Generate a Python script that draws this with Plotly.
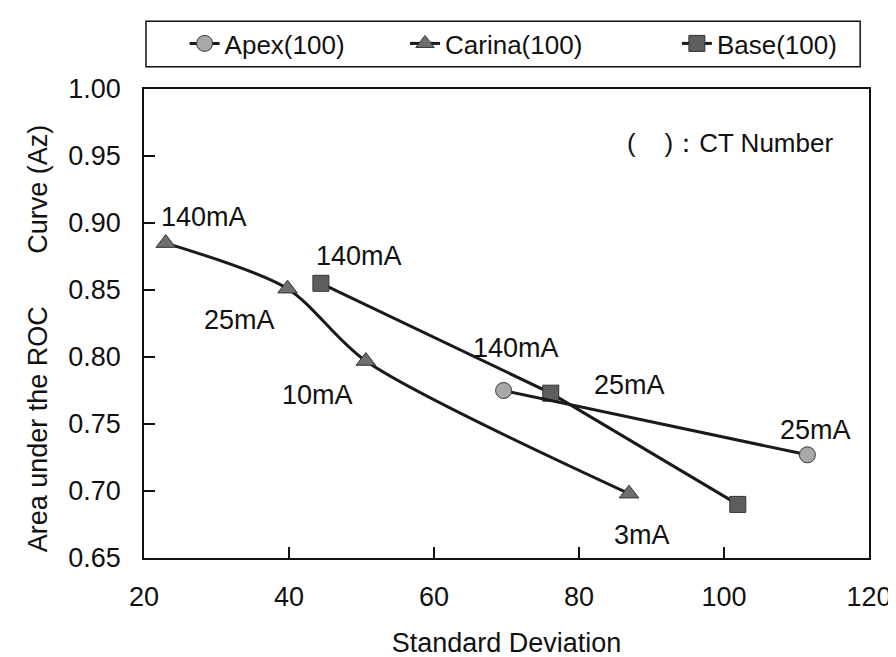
import plotly.graph_objects as go

# ---- data ----
apex_sd = [69.6, 111.5]
apex_az = [0.775, 0.727]
apex_lbl = ["140mA", "25mA"]

carina_sd = [23.0, 39.8, 50.6, 86.9]
carina_az = [0.885, 0.851, 0.797, 0.698]
carina_lbl = ["140mA", "25mA", "10mA", "3mA"]

base_sd = [44.4, 76.1, 101.9]
base_az = [0.855, 0.773, 0.690]
base_lbl = ["140mA", "25mA", ""]

x_ticks = [20, 40, 60, 80, 100, 120]
y_ticks = [0.65, 0.70, 0.75, 0.80, 0.85, 0.90, 0.95, 1.00]

FONT = "Liberation Sans, Arial, sans-serif"
LINE = "#1a1a1a"

fig = go.Figure()

fig.add_trace(go.Scatter(
    x=carina_sd, y=carina_az, name="Carina(100)", mode="lines+markers",
    line=dict(color=LINE, width=3, shape="spline", smoothing=0.8),
    marker=dict(symbol="triangle-up", size=17, color="#6e6e6e",
                line=dict(color="#333333", width=1)),
    legend="legend2"))
fig.add_trace(go.Scatter(
    x=base_sd, y=base_az, name="Base(100)", mode="lines+markers",
    line=dict(color=LINE, width=3),
    marker=dict(symbol="square", size=16, color="#5e5e5e",
                line=dict(color="#333333", width=1)),
    legend="legend3"))
fig.add_trace(go.Scatter(
    x=apex_sd, y=apex_az, name="Apex(100)", mode="lines+markers",
    line=dict(color=LINE, width=3),
    marker=dict(symbol="circle", size=16, color="#a8a8a8",
                line=dict(color="#333333", width=1)),
    legend="legend"))

# point labels (offsets in pixels relative to each point)
offsets = {
    "apex": [(12, 43), (8, 25)],
    "carina": [(38, 26), (-48, -31), (-48, -34), (13, -41)],
    "base": [(38, 27), (79, 8), (0, 0)],
}
for key, xs, ys, lbls in [("apex", apex_sd, apex_az, apex_lbl),
                          ("carina", carina_sd, carina_az, carina_lbl),
                          ("base", base_sd, base_az, base_lbl)]:
    for (xv, yv, t, (dx, dy)) in zip(xs, ys, lbls, offsets[key]):
        if not t:
            continue
        fig.add_annotation(x=xv, y=yv, xref="x", yref="y", text=t,
                           showarrow=False, xshift=dx, yshift=dy,
                           xanchor="center", yanchor="middle",
                           font=dict(family=FONT, size=27, color="#111"))

# CT number note
fig.add_annotation(x=0.9525, y=0.8845, xref="paper", yref="paper",
                   text="(\u00a0\u00a0\u00a0\u00a0)\uff1aCT Number", showarrow=False,
                   xanchor="right", yanchor="middle",
                   font=dict(family=FONT, size=26, color="#111"))

# y-axis title as rotated annotation
nb = "\u00a0" * 7
fig.add_annotation(x=-0.1465, y=0.468, xref="paper", yref="paper",
                   text="Area under the ROC" + nb + "Curve (Az)", textangle=-90,
                   showarrow=False, xanchor="center", yanchor="middle",
                   font=dict(family=FONT, size=27, color="#111"))

# legend frame
fig.add_shape(type="rect", xref="paper", yref="paper",
              x0=0.0027, x1=0.9878, y0=1.0474, y1=1.1443,
              line=dict(color="#111", width=1.5), fillcolor="rgba(0,0,0,0)")

leg_common = dict(orientation="h", yanchor="middle", xanchor="left",
                  bgcolor="rgba(0,0,0,0)", borderwidth=0,
                  font=dict(family=FONT, size=26, color="#111"))

fig.update_layout(
    width=896, height=657,
    margin=dict(l=136, r=23, t=77, b=95),
    paper_bgcolor="white", plot_bgcolor="white",
    font=dict(family=FONT, size=27, color="#111"),
    showlegend=True,
    legend=dict(x=0.056, y=1.097, **leg_common),
    legend2=dict(x=0.36, y=1.097, **leg_common),
    legend3=dict(x=0.735, y=1.097, **leg_common),
    xaxis=dict(range=[20, 120], tickvals=x_ticks, ticktext=[str(v) for v in x_ticks],
               ticks="inside", ticklen=11, tickwidth=1.5, tickcolor="#111",
               showline=True, linecolor="#111", linewidth=1.5, mirror=True,
               showgrid=False, zeroline=False,
               tickfont=dict(family=FONT, size=27), ticklabelstandoff=14,
               title=dict(text="Standard Deviation", font=dict(family=FONT, size=27),
                          standoff=22)),
    yaxis=dict(range=[0.65, 1.00], tickvals=y_ticks,
               ticktext=["%.2f" % v for v in y_ticks],
               ticks="inside", ticklen=11, tickwidth=1.5, tickcolor="#111",
               showline=True, linecolor="#111", linewidth=1.5, mirror=True,
               showgrid=False, zeroline=False,
               tickfont=dict(family=FONT, size=27), ticklabelstandoff=16),
)

fig.write_html("out.html")
